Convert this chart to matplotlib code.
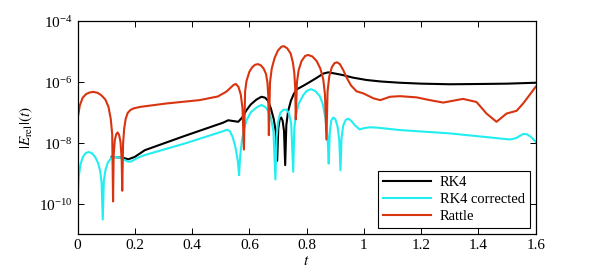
import numpy as np
import matplotlib
matplotlib.use("Agg")
import matplotlib.pyplot as plt
from matplotlib.ticker import FixedLocator, NullLocator, LogFormatterSciNotation

plt.rcParams['font.family'] = ['Liberation Serif', 'DejaVu Serif']
plt.rcParams['mathtext.fontset'] = 'stix'
plt.rcParams['font.size'] = 11

# RK4 (log10 of relative energy error)
t_rk4 = [0.119, 0.159, 0.177, 0.200, 0.235, 0.375, 0.508, 0.526, 0.561, 0.575,
         0.590, 0.605, 0.625, 0.642, 0.655, 0.665, 0.675, 0.685, 0.692, 0.697,
         0.701, 0.706, 0.711, 0.716, 0.721, 0.725, 0.729, 0.735, 0.745, 0.755,
         0.765, 0.790, 0.812, 0.835, 0.858, 0.875, 0.900, 0.927, 0.960, 1.009,
         1.060, 1.125, 1.200, 1.300, 1.416, 1.500, 1.600]
e_rk4 = [-8.44, -8.47, -8.52, -8.44, -8.22, -7.75, -7.32, -7.24, -7.29, -7.15,
         -6.91, -6.72, -6.56, -6.47, -6.50, -6.60, -6.85, -7.20, -7.60, -8.57,
         -7.50, -7.20, -7.15, -7.25, -7.60, -8.71, -7.40, -6.95, -6.60, -6.38,
         -6.23, -6.10, -5.98, -5.85, -5.71, -5.67, -5.71, -5.76, -5.84, -5.92,
         -5.97, -6.01, -6.04, -6.06, -6.05, -6.04, -6.01]

# RK4 corrected
t_cor = [0.000, 0.004, 0.010, 0.018, 0.028, 0.038, 0.050, 0.062, 0.072, 0.079,
         0.084, 0.088, 0.092, 0.098, 0.106, 0.118, 0.130, 0.145, 0.160, 0.172,
         0.181, 0.190, 0.200, 0.215, 0.235, 0.375, 0.508, 0.522, 0.532, 0.542,
         0.552, 0.560, 0.564, 0.568, 0.574, 0.582, 0.590, 0.605, 0.625, 0.642,
         0.655, 0.665, 0.675, 0.684, 0.691, 0.695, 0.700, 0.708, 0.718, 0.728,
         0.738, 0.746, 0.753, 0.757, 0.762, 0.772, 0.788, 0.800, 0.815, 0.830,
         0.846, 0.856, 0.866, 0.873, 0.877, 0.881, 0.886, 0.893, 0.900, 0.908,
         0.914, 0.918, 0.922, 0.928, 0.937, 0.945, 0.955, 0.968, 0.985, 1.000,
         1.020, 1.044, 1.125, 1.300, 1.416, 1.510, 1.530, 1.556, 1.570, 1.585,
         1.600]
e_cor = [-9.97, -9.10, -8.70, -8.45, -8.32, -8.28, -8.32, -8.45, -8.65, -8.90,
         -9.30, -10.49, -9.20, -8.85, -8.62, -8.47, -8.44, -8.46, -8.52, -8.58,
         -8.60, -8.58, -8.52, -8.45, -8.38, -8.00, -7.60, -7.55, -7.60, -7.80,
         -8.15, -8.60, -9.04, -8.40, -7.90, -7.50, -7.24, -6.98, -6.82, -6.74,
         -6.80, -6.92, -7.15, -7.60, -9.18, -7.80, -7.30, -7.00, -6.90, -6.89,
         -7.00, -7.35, -8.93, -7.50, -7.10, -6.70, -6.42, -6.28, -6.22, -6.28,
         -6.45, -6.70, -7.20, -7.80, -8.66, -7.60, -7.25, -7.15, -7.20, -7.45,
         -7.90, -8.88, -7.80, -7.40, -7.22, -7.19, -7.25, -7.40, -7.54, -7.50,
         -7.47, -7.48, -7.56, -7.67, -7.78, -7.87, -7.83, -7.69, -7.70, -7.80,
         -7.95]

# Rattle
t_rat = [0.000, 0.008, 0.018, 0.030, 0.042, 0.055, 0.070, 0.083, 0.097, 0.108,
         0.116, 0.121, 0.124, 0.126, 0.130, 0.135, 0.140, 0.145, 0.150, 0.154,
         0.156, 0.159, 0.163, 0.168, 0.175, 0.185, 0.196, 0.220, 0.310, 0.426,
         0.490, 0.520, 0.545, 0.553, 0.562, 0.570, 0.576, 0.581, 0.585, 0.590,
         0.600, 0.610, 0.620, 0.630, 0.640, 0.650, 0.658, 0.663, 0.666, 0.668,
         0.672, 0.678, 0.688, 0.700, 0.712, 0.720, 0.732, 0.744, 0.752, 0.757,
         0.760, 0.762, 0.766, 0.772, 0.782, 0.795, 0.805, 0.820, 0.835, 0.848,
         0.858, 0.864, 0.869, 0.873, 0.879, 0.888, 0.897, 0.906, 0.916, 0.928,
         0.940, 0.955, 0.974, 0.998, 1.033, 1.057, 1.091, 1.126, 1.184, 1.230,
         1.277, 1.346, 1.393, 1.428, 1.463, 1.498, 1.533, 1.556, 1.600]
e_rat = [-7.20, -6.75, -6.50, -6.38, -6.33, -6.31, -6.34, -6.42, -6.56, -6.80,
         -7.20, -7.70, -9.90, -8.40, -7.90, -7.70, -7.64, -7.72, -7.95, -8.50,
         -9.55, -8.00, -7.50, -7.20, -7.00, -6.90, -6.85, -6.80, -6.69, -6.58,
         -6.46, -6.30, -6.08, -6.05, -6.15, -6.40, -6.85, -8.20, -6.30, -5.95,
         -5.65, -5.50, -5.42, -5.40, -5.44, -5.55, -5.72, -6.00, -6.45, -7.73,
         -6.00, -5.55, -5.20, -4.95, -4.83, -4.81, -4.88, -5.05, -5.35, -5.70,
         -6.20, -7.21, -6.00, -5.60, -5.30, -5.13, -5.10, -5.15, -5.30, -5.55,
         -5.90, -6.40, -7.87, -6.30, -5.80, -5.50, -5.37, -5.34, -5.40, -5.60,
         -5.85, -6.10, -6.29, -6.36, -6.52, -6.58, -6.47, -6.45, -6.49, -6.58,
         -6.66, -6.54, -6.64, -7.02, -7.29, -7.02, -6.93, -6.69, -6.14]

fig = plt.figure(figsize=(5.92, 2.78), dpi=100)
ax = fig.add_axes([0.131, 0.158, 0.774, 0.765])

ax.semilogy(t_rk4, 10.0 ** np.array(e_rk4), color="black", lw=1.5, label="RK4")
ax.semilogy(t_cor, 10.0 ** np.array(e_cor), color="#22eef2", lw=1.5, label="RK4 corrected")
ax.semilogy(t_rat, 10.0 ** np.array(e_rat), color="#d8340f", lw=1.5, label="Rattle")

ax.set_xlim(0, 1.6)
ax.set_ylim(10 ** -10.97, 1e-4)
ax.set_xticks([0, 0.2, 0.4, 0.6, 0.8, 1.0, 1.2, 1.4, 1.6])
ax.set_xticklabels(["0", "0.2", "0.4", "0.6", "0.8", "1", "1.2", "1.4", "1.6"])
ax.yaxis.set_major_locator(FixedLocator([1e-10, 1e-8, 1e-6, 1e-4]))
ax.yaxis.set_major_formatter(LogFormatterSciNotation())
ax.yaxis.set_minor_locator(NullLocator())
ax.tick_params(direction="in", top=True, right=True, length=4, width=0.7)
for s in ax.spines.values():
    s.set_linewidth(0.9)

ax.set_xlabel("$t$", labelpad=2)
ax.set_ylabel(r"$|E_{\mathrm{rel}}|(t)$", labelpad=3)

leg = ax.legend(loc="lower right", fancybox=False, framealpha=1, edgecolor="black",
                borderaxespad=0.4, handlelength=3.3, labelspacing=0.25,
                borderpad=0.35, handletextpad=0.6, fontsize=10.5)
leg.get_frame().set_linewidth(0.8)

fig.savefig("out.png", dpi=100)
